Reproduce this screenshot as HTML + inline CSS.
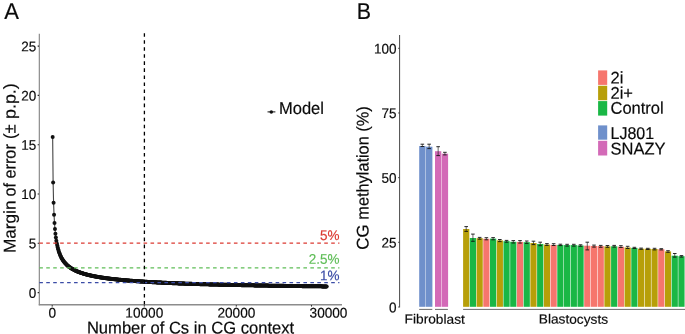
<!DOCTYPE html><html><head><meta charset="utf-8"><style>html,body{margin:0;padding:0;background:#fff}svg{display:block;position:absolute;left:0;top:0;will-change:transform}text{font-family:"Liberation Sans",sans-serif;fill:#0a0a0a;stroke:#0a0a0a;stroke-width:0.18px}</style></head><body>
<svg width="685" height="334" viewBox="0 0 685 334">
<rect width="685" height="334" fill="#fff"/>
<text transform="translate(4.20,18.90) rotate(0.05) scale(1.0,1.04)" font-size="22">A</text>
<line x1="39.35" y1="33.8" x2="39.35" y2="305.3" stroke="#909090" stroke-width="1.25"/>
<line x1="38.75" y1="304.7" x2="342" y2="304.7" stroke="#8c8c8c" stroke-width="1.35"/>
<line x1="37.7" y1="292.60" x2="38.9" y2="292.60" stroke="#111" stroke-width="1.1"/>
<text transform="translate(36.20,297.65) rotate(0.05) scale(1.0,1.03)" font-size="13.5" text-anchor="end">0</text>
<line x1="37.7" y1="243.30" x2="38.9" y2="243.30" stroke="#111" stroke-width="1.1"/>
<text transform="translate(36.20,248.35) rotate(0.05) scale(1.0,1.03)" font-size="13.5" text-anchor="end">5</text>
<line x1="37.7" y1="194.00" x2="38.9" y2="194.00" stroke="#111" stroke-width="1.1"/>
<text transform="translate(36.20,199.05) rotate(0.05) scale(1.0,1.03)" font-size="13.5" text-anchor="end">10</text>
<line x1="37.7" y1="144.70" x2="38.9" y2="144.70" stroke="#111" stroke-width="1.1"/>
<text transform="translate(36.20,149.75) rotate(0.05) scale(1.0,1.03)" font-size="13.5" text-anchor="end">15</text>
<line x1="37.7" y1="95.40" x2="38.9" y2="95.40" stroke="#111" stroke-width="1.1"/>
<text transform="translate(36.20,100.45) rotate(0.05) scale(1.0,1.03)" font-size="13.5" text-anchor="end">20</text>
<line x1="37.7" y1="46.10" x2="38.9" y2="46.10" stroke="#111" stroke-width="1.1"/>
<text transform="translate(36.20,51.15) rotate(0.05) scale(1.0,1.03)" font-size="13.5" text-anchor="end">25</text>
<line x1="52.2" y1="305.2" x2="52.2" y2="306.5" stroke="#111" stroke-width="1.1"/>
<text transform="translate(52.20,317.60) rotate(0.05) scale(1.01,1.03)" font-size="13.5" text-anchor="middle">0</text>
<line x1="144.3" y1="305.2" x2="144.3" y2="306.5" stroke="#111" stroke-width="1.1"/>
<text transform="translate(144.30,317.60) rotate(0.05) scale(1.01,1.03)" font-size="13.5" text-anchor="middle">10000</text>
<line x1="236.3" y1="305.2" x2="236.3" y2="306.5" stroke="#111" stroke-width="1.1"/>
<text transform="translate(236.40,317.60) rotate(0.05) scale(1.01,1.03)" font-size="13.5" text-anchor="middle">20000</text>
<line x1="311.5" y1="305.2" x2="311.5" y2="306.5" stroke="#111" stroke-width="1.1"/>
<text transform="translate(328.50,317.60) rotate(0.05) scale(1.01,1.03)" font-size="13.5" text-anchor="middle">30000</text>
<polyline fill="none" stroke="#444" stroke-width="1.1" points="52.66,137.11 53.12,182.59 53.58,202.74 54.04,214.76 54.50,222.96 54.96,229.01 55.42,233.71 55.88,237.51 56.34,240.65 56.80,243.30 57.27,245.59 57.73,247.59 58.19,249.35 58.65,250.91 59.11,252.32 59.57,253.60 60.03,254.76 60.49,255.82 60.95,256.80 61.41,257.70 61.87,258.54 62.33,259.32 62.79,260.05 63.25,260.73 63.71,261.37 64.17,261.98 64.63,262.55 65.09,263.09 65.55,263.60 66.02,264.09 66.48,264.55 66.94,264.99 67.40,265.41 67.86,265.81 68.32,266.20 68.78,266.56 69.24,266.92 69.70,267.26 70.16,267.58 70.62,267.90 71.08,268.20 71.54,268.49 72.00,268.77 72.46,269.05 72.92,269.31 73.38,269.56 73.84,269.81 74.30,270.05 74.76,270.28 75.22,270.50 75.69,270.72 76.15,270.93 76.61,271.14 77.07,271.34 77.53,271.53 77.99,271.72 78.45,271.91 78.91,272.09 79.37,272.26 79.83,272.43 80.29,272.60 80.75,272.76 81.21,272.92 81.67,273.07 82.13,273.22 82.59,273.37 83.05,273.52 83.51,273.66 83.97,273.80 84.44,273.93 84.90,274.06 85.36,274.19 85.82,274.32 86.28,274.44 86.74,274.57 87.20,274.69 87.66,274.80 88.12,274.92 88.58,275.03 89.04,275.14 89.50,275.25 89.96,275.36 90.42,275.46 90.88,275.57 91.34,275.67 91.80,275.77 92.26,275.87 92.72,275.96 93.18,276.06 93.65,276.15 94.11,276.24 94.57,276.33 95.03,276.42 95.49,276.51 95.95,276.59 96.41,276.68 96.87,276.76 97.33,276.84 97.79,276.92 98.25,277.00 98.71,277.08 99.17,277.16 99.63,277.23 100.09,277.31 100.55,277.38 101.01,277.46 101.47,277.53 101.93,277.60 102.39,277.67 102.85,277.74 103.32,277.81 103.78,277.87 104.24,277.94 104.70,278.01 105.16,278.07 105.62,278.13 106.08,278.20 106.54,278.26 107.00,278.32 107.46,278.38 107.92,278.44 108.38,278.50 108.84,278.56 109.30,278.62 109.76,278.67 110.22,278.73 110.68,278.79 111.14,278.84 111.60,278.90 112.06,278.95 112.53,279.00 112.99,279.06 113.45,279.11 113.91,279.16 114.37,279.21 114.83,279.26 115.29,279.31 115.75,279.36 116.21,279.41 116.67,279.46 117.13,279.51 117.59,279.55 118.05,279.60 118.51,279.65 118.97,279.69 119.43,279.74 119.89,279.78 120.35,279.83 120.81,279.87 121.28,279.92 121.74,279.96 122.20,280.00 122.66,280.05 123.12,280.09 123.58,280.13 124.04,280.17 124.50,280.21 124.96,280.25 125.42,280.29 125.88,280.33 126.34,280.37 126.80,280.41 127.26,280.45 127.72,280.49 128.18,280.53 128.64,280.57 129.10,280.60 129.56,280.64 130.02,280.68 130.49,280.71 130.95,280.75 131.41,280.78 131.87,280.82 132.33,280.86 132.79,280.89 133.25,280.93 133.71,280.96 134.17,280.99 134.63,281.03 135.09,281.06 135.55,281.09 136.01,281.13 136.47,281.16 136.93,281.19 137.39,281.23 137.85,281.26 138.31,281.29 138.77,281.32 139.23,281.35 139.69,281.38 140.16,281.41 140.62,281.44 141.08,281.48 141.54,281.51 142.00,281.54 142.46,281.57 142.92,281.59 143.38,281.62 143.84,281.65 144.30,281.68 144.76,281.71 145.22,281.74 145.68,281.77 146.14,281.80 146.60,281.82 147.06,281.85 147.52,281.88 147.98,281.91 148.44,281.93 148.91,281.96 149.37,281.99 149.83,282.01 150.29,282.04 150.75,282.07 151.21,282.09 151.67,282.12 152.13,282.14 152.59,282.17 153.05,282.19 153.51,282.22 153.97,282.24 154.43,282.27 154.89,282.29 155.35,282.32 155.81,282.34 156.27,282.37 156.73,282.39 157.19,282.42 157.65,282.44 158.12,282.46 158.58,282.49 159.04,282.51 159.50,282.53 159.96,282.56 160.42,282.58 160.88,282.60 161.34,282.62 161.80,282.65 162.26,282.67 162.72,282.69 163.18,282.71 163.64,282.74 164.10,282.76 164.56,282.78 165.02,282.80 165.48,282.82 165.94,282.84 166.40,282.86 166.86,282.89 167.32,282.91 167.79,282.93 168.25,282.95 168.71,282.97 169.17,282.99 169.63,283.01 170.09,283.03 170.55,283.05 171.01,283.07 171.47,283.09 171.93,283.11 172.39,283.13 172.85,283.15 173.31,283.17 173.77,283.19 174.23,283.21 174.69,283.23 175.15,283.25 175.61,283.27 176.07,283.29 176.53,283.30 177.00,283.32 177.46,283.34 177.92,283.36 178.38,283.38 178.84,283.40 179.30,283.42 179.76,283.43 180.22,283.45 180.68,283.47 181.14,283.49 181.60,283.51 182.06,283.52 182.52,283.54 182.98,283.56 183.44,283.58 183.90,283.59 184.36,283.61 184.82,283.63 185.28,283.64 185.75,283.66 186.21,283.68 186.67,283.70 187.13,283.71 187.59,283.73 188.05,283.75 188.51,283.76 188.97,283.78 189.43,283.80 189.89,283.81 190.35,283.83 190.81,283.84 191.27,283.86 191.73,283.87 192.19,283.89 192.65,283.90 193.11,283.92 193.57,283.93 194.03,283.95 194.49,283.96 194.95,283.97 195.42,283.99 195.88,284.00 196.34,284.02 196.80,284.03 197.26,284.04 197.72,284.06 198.18,284.07 198.64,284.09 199.10,284.10 199.56,284.11 200.02,284.13 200.48,284.14 200.94,284.15 201.40,284.17 201.86,284.18 202.32,284.19 202.78,284.21 203.24,284.22 203.70,284.23 204.17,284.25 204.63,284.26 205.09,284.27 205.55,284.28 206.01,284.30 206.47,284.31 206.93,284.32 207.39,284.33 207.85,284.35 208.31,284.36 208.77,284.37 209.23,284.38 209.69,284.40 210.15,284.41 210.61,284.42 211.07,284.43 211.53,284.45 211.99,284.46 212.45,284.47 212.91,284.48 213.38,284.49 213.84,284.51 214.30,284.52 214.76,284.53 215.22,284.54 215.68,284.55 216.14,284.56 216.60,284.58 217.06,284.59 217.52,284.60 217.98,284.61 218.44,284.62 218.90,284.63 219.36,284.64 219.82,284.65 220.28,284.67 220.74,284.68 221.20,284.69 221.66,284.70 222.12,284.71 222.58,284.72 223.05,284.73 223.51,284.74 223.97,284.75 224.43,284.76 224.89,284.78 225.35,284.79 225.81,284.80 226.27,284.81 226.73,284.82 227.19,284.83 227.65,284.84 228.11,284.85 228.57,284.86 229.03,284.87 229.49,284.88 229.95,284.89 230.41,284.90 230.87,284.91 231.33,284.92 231.80,284.93 232.26,284.94 232.72,284.95 233.18,284.96 233.64,284.97 234.10,284.98 234.56,284.99 235.02,285.00 235.48,285.01 235.94,285.02 236.40,285.03 236.86,285.04 237.32,285.05 237.78,285.06 238.24,285.07 238.70,285.08 239.16,285.09 239.62,285.10 240.08,285.11 240.54,285.12 241.00,285.12 241.47,285.13 241.93,285.14 242.39,285.15 242.85,285.16 243.31,285.17 243.77,285.18 244.23,285.19 244.69,285.20 245.15,285.21 245.61,285.22 246.07,285.23 246.53,285.23 246.99,285.24 247.45,285.25 247.91,285.26 248.37,285.27 248.83,285.28 249.29,285.29 249.75,285.30 250.21,285.31 250.68,285.31 251.14,285.32 251.60,285.33 252.06,285.34 252.52,285.35 252.98,285.36 253.44,285.37 253.90,285.37 254.36,285.38 254.82,285.39 255.28,285.40 255.74,285.41 256.20,285.42 256.66,285.42 257.12,285.43 257.58,285.44 258.04,285.45 258.50,285.46 258.96,285.47 259.43,285.47 259.89,285.48 260.35,285.49 260.81,285.50 261.27,285.51 261.73,285.51 262.19,285.52 262.65,285.53 263.11,285.54 263.57,285.55 264.03,285.55 264.49,285.56 264.95,285.57 265.41,285.58 265.87,285.59 266.33,285.59 266.79,285.60 267.25,285.61 267.71,285.62 268.17,285.62 268.63,285.63 269.10,285.64 269.56,285.65 270.02,285.65 270.48,285.66 270.94,285.67 271.40,285.68 271.86,285.68 272.32,285.69 272.78,285.70 273.24,285.71 273.70,285.71 274.16,285.72 274.62,285.73 275.08,285.74 275.54,285.74 276.00,285.75 276.46,285.76 276.92,285.76 277.38,285.77 277.84,285.78 278.31,285.79 278.77,285.79 279.23,285.80 279.69,285.81 280.15,285.81 280.61,285.82 281.07,285.83 281.53,285.84 281.99,285.84 282.45,285.85 282.91,285.86 283.37,285.86 283.83,285.87 284.29,285.88 284.75,285.88 285.21,285.89 285.67,285.90 286.13,285.90 286.59,285.91 287.06,285.92 287.52,285.92 287.98,285.93 288.44,285.94 288.90,285.94 289.36,285.95 289.82,285.96 290.28,285.96 290.74,285.97 291.20,285.98 291.66,285.98 292.12,285.99 292.58,286.00 293.04,286.00 293.50,286.01 293.96,286.02 294.42,286.02 294.88,286.03 295.34,286.04 295.80,286.04 296.26,286.05 296.73,286.06 297.19,286.06 297.65,286.07 298.11,286.07 298.57,286.08 299.03,286.09 299.49,286.09 299.95,286.10 300.41,286.11 300.87,286.11 301.33,286.12 301.79,286.12 302.25,286.13 302.71,286.14 303.17,286.14 303.63,286.15 304.09,286.15 304.55,286.16 305.01,286.17 305.47,286.17 305.94,286.18 306.40,286.18 306.86,286.19 307.32,286.20 307.78,286.20 308.24,286.21 308.70,286.21 309.16,286.22 309.62,286.23 310.08,286.23 310.54,286.24 311.00,286.24 311.46,286.25 311.92,286.26 312.38,286.26 312.84,286.27 313.30,286.27 313.76,286.28 314.22,286.28 314.68,286.29 315.15,286.30 315.61,286.30 316.07,286.31 316.53,286.31 316.99,286.32 317.45,286.32 317.91,286.33 318.37,286.33 318.83,286.34 319.29,286.35 319.75,286.35 320.21,286.36 320.67,286.36 321.13,286.37 321.59,286.37 322.05,286.38 322.51,286.38 322.97,286.39 323.43,286.40 323.89,286.40 324.36,286.41 324.82,286.41 325.28,286.42 325.74,286.42 326.20,286.43 326.66,286.43"/>
<g fill="#111">
<circle cx="52.66" cy="137.11" r="2.0"/>
<circle cx="53.12" cy="182.59" r="2.0"/>
<circle cx="53.58" cy="202.74" r="2.0"/>
<circle cx="54.04" cy="214.76" r="2.0"/>
<circle cx="54.50" cy="222.96" r="2.0"/>
<circle cx="54.96" cy="229.01" r="2.0"/>
<circle cx="55.42" cy="233.71" r="2.0"/>
<circle cx="55.88" cy="237.51" r="2.0"/>
<circle cx="56.34" cy="240.65" r="2.0"/>
<circle cx="56.80" cy="243.30" r="2.0"/>
<circle cx="57.27" cy="245.59" r="2.0"/>
<circle cx="57.73" cy="247.59" r="2.0"/>
<circle cx="58.19" cy="249.35" r="2.0"/>
<circle cx="58.65" cy="250.91" r="2.0"/>
<circle cx="59.11" cy="252.32" r="2.0"/>
<circle cx="59.57" cy="253.60" r="2.0"/>
<circle cx="60.03" cy="254.76" r="2.0"/>
<circle cx="60.49" cy="255.82" r="2.0"/>
<circle cx="60.95" cy="256.80" r="2.0"/>
<circle cx="61.41" cy="257.70" r="2.0"/>
<circle cx="61.87" cy="258.54" r="2.0"/>
<circle cx="62.33" cy="259.32" r="2.0"/>
<circle cx="62.79" cy="260.05" r="2.0"/>
<circle cx="63.25" cy="260.73" r="2.0"/>
<circle cx="63.71" cy="261.37" r="2.0"/>
<circle cx="64.17" cy="261.98" r="2.0"/>
<circle cx="64.63" cy="262.55" r="2.0"/>
<circle cx="65.09" cy="263.09" r="2.0"/>
<circle cx="65.55" cy="263.60" r="2.0"/>
<circle cx="66.02" cy="264.09" r="2.0"/>
<circle cx="66.48" cy="264.55" r="2.0"/>
<circle cx="66.94" cy="264.99" r="2.0"/>
<circle cx="67.40" cy="265.41" r="2.0"/>
<circle cx="67.86" cy="265.81" r="2.0"/>
<circle cx="68.32" cy="266.20" r="2.0"/>
<circle cx="68.78" cy="266.56" r="2.0"/>
<circle cx="69.24" cy="266.92" r="2.0"/>
<circle cx="69.70" cy="267.26" r="2.0"/>
<circle cx="70.16" cy="267.58" r="2.0"/>
<circle cx="70.62" cy="267.90" r="2.0"/>
<circle cx="71.08" cy="268.20" r="2.0"/>
<circle cx="71.54" cy="268.49" r="2.0"/>
<circle cx="72.00" cy="268.77" r="2.0"/>
<circle cx="72.46" cy="269.05" r="2.0"/>
<circle cx="72.92" cy="269.31" r="2.0"/>
<circle cx="73.38" cy="269.56" r="2.0"/>
<circle cx="73.84" cy="269.81" r="2.0"/>
<circle cx="74.30" cy="270.05" r="2.0"/>
<circle cx="74.76" cy="270.28" r="2.0"/>
<circle cx="75.22" cy="270.50" r="2.0"/>
<circle cx="75.69" cy="270.72" r="2.0"/>
<circle cx="76.15" cy="270.93" r="2.0"/>
<circle cx="76.61" cy="271.14" r="2.0"/>
<circle cx="77.07" cy="271.34" r="2.0"/>
<circle cx="77.53" cy="271.53" r="2.0"/>
<circle cx="77.99" cy="271.72" r="2.0"/>
<circle cx="78.45" cy="271.91" r="2.0"/>
<circle cx="78.91" cy="272.09" r="2.0"/>
<circle cx="79.37" cy="272.26" r="2.0"/>
<circle cx="79.83" cy="272.43" r="2.0"/>
<circle cx="80.29" cy="272.60" r="2.0"/>
<circle cx="80.75" cy="272.76" r="2.0"/>
<circle cx="81.21" cy="272.92" r="2.0"/>
<circle cx="81.67" cy="273.07" r="2.0"/>
<circle cx="82.13" cy="273.22" r="2.0"/>
<circle cx="82.59" cy="273.37" r="2.0"/>
<circle cx="83.05" cy="273.52" r="2.0"/>
<circle cx="83.51" cy="273.66" r="2.0"/>
<circle cx="83.97" cy="273.80" r="2.0"/>
<circle cx="84.44" cy="273.93" r="2.0"/>
<circle cx="84.90" cy="274.06" r="2.0"/>
<circle cx="85.36" cy="274.19" r="2.0"/>
<circle cx="85.82" cy="274.32" r="2.0"/>
<circle cx="86.28" cy="274.44" r="2.0"/>
<circle cx="86.74" cy="274.57" r="2.0"/>
<circle cx="87.20" cy="274.69" r="2.0"/>
<circle cx="87.66" cy="274.80" r="2.0"/>
<circle cx="88.12" cy="274.92" r="2.0"/>
<circle cx="88.58" cy="275.03" r="2.0"/>
<circle cx="89.04" cy="275.14" r="2.0"/>
<circle cx="89.50" cy="275.25" r="2.0"/>
<circle cx="89.96" cy="275.36" r="2.0"/>
<circle cx="90.42" cy="275.46" r="2.0"/>
<circle cx="90.88" cy="275.57" r="2.0"/>
<circle cx="91.34" cy="275.67" r="2.0"/>
<circle cx="91.80" cy="275.77" r="2.0"/>
<circle cx="92.26" cy="275.87" r="2.0"/>
<circle cx="92.72" cy="275.96" r="2.0"/>
<circle cx="93.18" cy="276.06" r="2.0"/>
<circle cx="93.65" cy="276.15" r="2.0"/>
<circle cx="94.11" cy="276.24" r="2.0"/>
<circle cx="94.57" cy="276.33" r="2.0"/>
<circle cx="95.03" cy="276.42" r="2.0"/>
<circle cx="95.49" cy="276.51" r="2.0"/>
<circle cx="95.95" cy="276.59" r="2.0"/>
<circle cx="96.41" cy="276.68" r="2.0"/>
<circle cx="96.87" cy="276.76" r="2.0"/>
<circle cx="97.33" cy="276.84" r="2.0"/>
<circle cx="97.79" cy="276.92" r="2.0"/>
<circle cx="98.25" cy="277.00" r="2.0"/>
<circle cx="98.71" cy="277.08" r="2.0"/>
<circle cx="99.17" cy="277.16" r="2.0"/>
<circle cx="99.63" cy="277.23" r="2.0"/>
<circle cx="100.09" cy="277.31" r="2.0"/>
<circle cx="100.55" cy="277.38" r="2.0"/>
<circle cx="101.01" cy="277.46" r="2.0"/>
<circle cx="101.47" cy="277.53" r="2.0"/>
<circle cx="101.93" cy="277.60" r="2.0"/>
<circle cx="102.39" cy="277.67" r="2.0"/>
<circle cx="102.85" cy="277.74" r="2.0"/>
<circle cx="103.32" cy="277.81" r="2.0"/>
<circle cx="103.78" cy="277.87" r="2.0"/>
<circle cx="104.24" cy="277.94" r="2.0"/>
<circle cx="104.70" cy="278.01" r="2.0"/>
<circle cx="105.16" cy="278.07" r="2.0"/>
<circle cx="105.62" cy="278.13" r="2.0"/>
<circle cx="106.08" cy="278.20" r="2.0"/>
<circle cx="106.54" cy="278.26" r="2.0"/>
<circle cx="107.00" cy="278.32" r="2.0"/>
<circle cx="107.46" cy="278.38" r="2.0"/>
<circle cx="107.92" cy="278.44" r="2.0"/>
<circle cx="108.38" cy="278.50" r="2.0"/>
<circle cx="108.84" cy="278.56" r="2.0"/>
<circle cx="109.30" cy="278.62" r="2.0"/>
<circle cx="109.76" cy="278.67" r="2.0"/>
<circle cx="110.22" cy="278.73" r="2.0"/>
<circle cx="110.68" cy="278.79" r="2.0"/>
<circle cx="111.14" cy="278.84" r="2.0"/>
<circle cx="111.60" cy="278.90" r="2.0"/>
<circle cx="112.06" cy="278.95" r="2.0"/>
<circle cx="112.53" cy="279.00" r="2.0"/>
<circle cx="112.99" cy="279.06" r="2.0"/>
<circle cx="113.45" cy="279.11" r="2.0"/>
<circle cx="113.91" cy="279.16" r="2.0"/>
<circle cx="114.37" cy="279.21" r="2.0"/>
<circle cx="114.83" cy="279.26" r="2.0"/>
<circle cx="115.29" cy="279.31" r="2.0"/>
<circle cx="115.75" cy="279.36" r="2.0"/>
<circle cx="116.21" cy="279.41" r="2.0"/>
<circle cx="116.67" cy="279.46" r="2.0"/>
<circle cx="117.13" cy="279.51" r="2.0"/>
<circle cx="117.59" cy="279.55" r="2.0"/>
<circle cx="118.05" cy="279.60" r="2.0"/>
<circle cx="118.51" cy="279.65" r="2.0"/>
<circle cx="118.97" cy="279.69" r="2.0"/>
<circle cx="119.43" cy="279.74" r="2.0"/>
<circle cx="119.89" cy="279.78" r="2.0"/>
<circle cx="120.35" cy="279.83" r="2.0"/>
<circle cx="120.81" cy="279.87" r="2.0"/>
<circle cx="121.28" cy="279.92" r="2.0"/>
<circle cx="121.74" cy="279.96" r="2.0"/>
<circle cx="122.20" cy="280.00" r="2.0"/>
<circle cx="122.66" cy="280.05" r="2.0"/>
<circle cx="123.12" cy="280.09" r="2.0"/>
<circle cx="123.58" cy="280.13" r="2.0"/>
<circle cx="124.04" cy="280.17" r="2.0"/>
<circle cx="124.50" cy="280.21" r="2.0"/>
<circle cx="124.96" cy="280.25" r="2.0"/>
<circle cx="125.42" cy="280.29" r="2.0"/>
<circle cx="125.88" cy="280.33" r="2.0"/>
<circle cx="126.34" cy="280.37" r="2.0"/>
<circle cx="126.80" cy="280.41" r="2.0"/>
<circle cx="127.26" cy="280.45" r="2.0"/>
<circle cx="127.72" cy="280.49" r="2.0"/>
<circle cx="128.18" cy="280.53" r="2.0"/>
<circle cx="128.64" cy="280.57" r="2.0"/>
<circle cx="129.10" cy="280.60" r="2.0"/>
<circle cx="129.56" cy="280.64" r="2.0"/>
<circle cx="130.02" cy="280.68" r="2.0"/>
<circle cx="130.49" cy="280.71" r="2.0"/>
<circle cx="130.95" cy="280.75" r="2.0"/>
<circle cx="131.41" cy="280.78" r="2.0"/>
<circle cx="131.87" cy="280.82" r="2.0"/>
<circle cx="132.33" cy="280.86" r="2.0"/>
<circle cx="132.79" cy="280.89" r="2.0"/>
<circle cx="133.25" cy="280.93" r="2.0"/>
<circle cx="133.71" cy="280.96" r="2.0"/>
<circle cx="134.17" cy="280.99" r="2.0"/>
<circle cx="134.63" cy="281.03" r="2.0"/>
<circle cx="135.09" cy="281.06" r="2.0"/>
<circle cx="135.55" cy="281.09" r="2.0"/>
<circle cx="136.01" cy="281.13" r="2.0"/>
<circle cx="136.47" cy="281.16" r="2.0"/>
<circle cx="136.93" cy="281.19" r="2.0"/>
<circle cx="137.39" cy="281.23" r="2.0"/>
<circle cx="137.85" cy="281.26" r="2.0"/>
<circle cx="138.31" cy="281.29" r="2.0"/>
<circle cx="138.77" cy="281.32" r="2.0"/>
<circle cx="139.23" cy="281.35" r="2.0"/>
<circle cx="139.69" cy="281.38" r="2.0"/>
<circle cx="140.16" cy="281.41" r="2.0"/>
<circle cx="140.62" cy="281.44" r="2.0"/>
<circle cx="141.08" cy="281.48" r="2.0"/>
<circle cx="141.54" cy="281.51" r="2.0"/>
<circle cx="142.00" cy="281.54" r="2.0"/>
<circle cx="142.46" cy="281.57" r="2.0"/>
<circle cx="142.92" cy="281.59" r="2.0"/>
<circle cx="143.38" cy="281.62" r="2.0"/>
<circle cx="143.84" cy="281.65" r="2.0"/>
<circle cx="144.30" cy="281.68" r="2.0"/>
<circle cx="144.76" cy="281.71" r="2.0"/>
<circle cx="145.22" cy="281.74" r="2.0"/>
<circle cx="145.68" cy="281.77" r="2.0"/>
<circle cx="146.14" cy="281.80" r="2.0"/>
<circle cx="146.60" cy="281.82" r="2.0"/>
<circle cx="147.06" cy="281.85" r="2.0"/>
<circle cx="147.52" cy="281.88" r="2.0"/>
<circle cx="147.98" cy="281.91" r="2.0"/>
<circle cx="148.44" cy="281.93" r="2.0"/>
<circle cx="148.91" cy="281.96" r="2.0"/>
<circle cx="149.37" cy="281.99" r="2.0"/>
<circle cx="149.83" cy="282.01" r="2.0"/>
<circle cx="150.29" cy="282.04" r="2.0"/>
<circle cx="150.75" cy="282.07" r="2.0"/>
<circle cx="151.21" cy="282.09" r="2.0"/>
<circle cx="151.67" cy="282.12" r="2.0"/>
<circle cx="152.13" cy="282.14" r="2.0"/>
<circle cx="152.59" cy="282.17" r="2.0"/>
<circle cx="153.05" cy="282.19" r="2.0"/>
<circle cx="153.51" cy="282.22" r="2.0"/>
<circle cx="153.97" cy="282.24" r="2.0"/>
<circle cx="154.43" cy="282.27" r="2.0"/>
<circle cx="154.89" cy="282.29" r="2.0"/>
<circle cx="155.35" cy="282.32" r="2.0"/>
<circle cx="155.81" cy="282.34" r="2.0"/>
<circle cx="156.27" cy="282.37" r="2.0"/>
<circle cx="156.73" cy="282.39" r="2.0"/>
<circle cx="157.19" cy="282.42" r="2.0"/>
<circle cx="157.65" cy="282.44" r="2.0"/>
<circle cx="158.12" cy="282.46" r="2.0"/>
<circle cx="158.58" cy="282.49" r="2.0"/>
<circle cx="159.04" cy="282.51" r="2.0"/>
<circle cx="159.50" cy="282.53" r="2.0"/>
<circle cx="159.96" cy="282.56" r="2.0"/>
<circle cx="160.42" cy="282.58" r="2.0"/>
<circle cx="160.88" cy="282.60" r="2.0"/>
<circle cx="161.34" cy="282.62" r="2.0"/>
<circle cx="161.80" cy="282.65" r="2.0"/>
<circle cx="162.26" cy="282.67" r="2.0"/>
<circle cx="162.72" cy="282.69" r="2.0"/>
<circle cx="163.18" cy="282.71" r="2.0"/>
<circle cx="163.64" cy="282.74" r="2.0"/>
<circle cx="164.10" cy="282.76" r="2.0"/>
<circle cx="164.56" cy="282.78" r="2.0"/>
<circle cx="165.02" cy="282.80" r="2.0"/>
<circle cx="165.48" cy="282.82" r="2.0"/>
<circle cx="165.94" cy="282.84" r="2.0"/>
<circle cx="166.40" cy="282.86" r="2.0"/>
<circle cx="166.86" cy="282.89" r="2.0"/>
<circle cx="167.32" cy="282.91" r="2.0"/>
<circle cx="167.79" cy="282.93" r="2.0"/>
<circle cx="168.25" cy="282.95" r="2.0"/>
<circle cx="168.71" cy="282.97" r="2.0"/>
<circle cx="169.17" cy="282.99" r="2.0"/>
<circle cx="169.63" cy="283.01" r="2.0"/>
<circle cx="170.09" cy="283.03" r="2.0"/>
<circle cx="170.55" cy="283.05" r="2.0"/>
<circle cx="171.01" cy="283.07" r="2.0"/>
<circle cx="171.47" cy="283.09" r="2.0"/>
<circle cx="171.93" cy="283.11" r="2.0"/>
<circle cx="172.39" cy="283.13" r="2.0"/>
<circle cx="172.85" cy="283.15" r="2.0"/>
<circle cx="173.31" cy="283.17" r="2.0"/>
<circle cx="173.77" cy="283.19" r="2.0"/>
<circle cx="174.23" cy="283.21" r="2.0"/>
<circle cx="174.69" cy="283.23" r="2.0"/>
<circle cx="175.15" cy="283.25" r="2.0"/>
<circle cx="175.61" cy="283.27" r="2.0"/>
<circle cx="176.07" cy="283.29" r="2.0"/>
<circle cx="176.53" cy="283.30" r="2.0"/>
<circle cx="177.00" cy="283.32" r="2.0"/>
<circle cx="177.46" cy="283.34" r="2.0"/>
<circle cx="177.92" cy="283.36" r="2.0"/>
<circle cx="178.38" cy="283.38" r="2.0"/>
<circle cx="178.84" cy="283.40" r="2.0"/>
<circle cx="179.30" cy="283.42" r="2.0"/>
<circle cx="179.76" cy="283.43" r="2.0"/>
<circle cx="180.22" cy="283.45" r="2.0"/>
<circle cx="180.68" cy="283.47" r="2.0"/>
<circle cx="181.14" cy="283.49" r="2.0"/>
<circle cx="181.60" cy="283.51" r="2.0"/>
<circle cx="182.06" cy="283.52" r="2.0"/>
<circle cx="182.52" cy="283.54" r="2.0"/>
<circle cx="182.98" cy="283.56" r="2.0"/>
<circle cx="183.44" cy="283.58" r="2.0"/>
<circle cx="183.90" cy="283.59" r="2.0"/>
<circle cx="184.36" cy="283.61" r="2.0"/>
<circle cx="184.82" cy="283.63" r="2.0"/>
<circle cx="185.28" cy="283.64" r="2.0"/>
<circle cx="185.75" cy="283.66" r="2.0"/>
<circle cx="186.21" cy="283.68" r="2.0"/>
<circle cx="186.67" cy="283.70" r="2.0"/>
<circle cx="187.13" cy="283.71" r="2.0"/>
<circle cx="187.59" cy="283.73" r="2.0"/>
<circle cx="188.05" cy="283.75" r="2.0"/>
<circle cx="188.51" cy="283.76" r="2.0"/>
<circle cx="188.97" cy="283.78" r="2.0"/>
<circle cx="189.43" cy="283.80" r="2.0"/>
<circle cx="189.89" cy="283.81" r="2.0"/>
<circle cx="190.35" cy="283.83" r="2.0"/>
<circle cx="190.81" cy="283.84" r="2.0"/>
<circle cx="191.27" cy="283.86" r="2.0"/>
<circle cx="191.73" cy="283.87" r="2.0"/>
<circle cx="192.19" cy="283.89" r="2.0"/>
<circle cx="192.65" cy="283.90" r="2.0"/>
<circle cx="193.11" cy="283.92" r="2.0"/>
<circle cx="193.57" cy="283.93" r="2.0"/>
<circle cx="194.03" cy="283.95" r="2.0"/>
<circle cx="194.49" cy="283.96" r="2.0"/>
<circle cx="194.95" cy="283.97" r="2.0"/>
<circle cx="195.42" cy="283.99" r="2.0"/>
<circle cx="195.88" cy="284.00" r="2.0"/>
<circle cx="196.34" cy="284.02" r="2.0"/>
<circle cx="196.80" cy="284.03" r="2.0"/>
<circle cx="197.26" cy="284.04" r="2.0"/>
<circle cx="197.72" cy="284.06" r="2.0"/>
<circle cx="198.18" cy="284.07" r="2.0"/>
<circle cx="198.64" cy="284.09" r="2.0"/>
<circle cx="199.10" cy="284.10" r="2.0"/>
<circle cx="199.56" cy="284.11" r="2.0"/>
<circle cx="200.02" cy="284.13" r="2.0"/>
<circle cx="200.48" cy="284.14" r="2.0"/>
<circle cx="200.94" cy="284.15" r="2.0"/>
<circle cx="201.40" cy="284.17" r="2.0"/>
<circle cx="201.86" cy="284.18" r="2.0"/>
<circle cx="202.32" cy="284.19" r="2.0"/>
<circle cx="202.78" cy="284.21" r="2.0"/>
<circle cx="203.24" cy="284.22" r="2.0"/>
<circle cx="203.70" cy="284.23" r="2.0"/>
<circle cx="204.17" cy="284.25" r="2.0"/>
<circle cx="204.63" cy="284.26" r="2.0"/>
<circle cx="205.09" cy="284.27" r="2.0"/>
<circle cx="205.55" cy="284.28" r="2.0"/>
<circle cx="206.01" cy="284.30" r="2.0"/>
<circle cx="206.47" cy="284.31" r="2.0"/>
<circle cx="206.93" cy="284.32" r="2.0"/>
<circle cx="207.39" cy="284.33" r="2.0"/>
<circle cx="207.85" cy="284.35" r="2.0"/>
<circle cx="208.31" cy="284.36" r="2.0"/>
<circle cx="208.77" cy="284.37" r="2.0"/>
<circle cx="209.23" cy="284.38" r="2.0"/>
<circle cx="209.69" cy="284.40" r="2.0"/>
<circle cx="210.15" cy="284.41" r="2.0"/>
<circle cx="210.61" cy="284.42" r="2.0"/>
<circle cx="211.07" cy="284.43" r="2.0"/>
<circle cx="211.53" cy="284.45" r="2.0"/>
<circle cx="211.99" cy="284.46" r="2.0"/>
<circle cx="212.45" cy="284.47" r="2.0"/>
<circle cx="212.91" cy="284.48" r="2.0"/>
<circle cx="213.38" cy="284.49" r="2.0"/>
<circle cx="213.84" cy="284.51" r="2.0"/>
<circle cx="214.30" cy="284.52" r="2.0"/>
<circle cx="214.76" cy="284.53" r="2.0"/>
<circle cx="215.22" cy="284.54" r="2.0"/>
<circle cx="215.68" cy="284.55" r="2.0"/>
<circle cx="216.14" cy="284.56" r="2.0"/>
<circle cx="216.60" cy="284.58" r="2.0"/>
<circle cx="217.06" cy="284.59" r="2.0"/>
<circle cx="217.52" cy="284.60" r="2.0"/>
<circle cx="217.98" cy="284.61" r="2.0"/>
<circle cx="218.44" cy="284.62" r="2.0"/>
<circle cx="218.90" cy="284.63" r="2.0"/>
<circle cx="219.36" cy="284.64" r="2.0"/>
<circle cx="219.82" cy="284.65" r="2.0"/>
<circle cx="220.28" cy="284.67" r="2.0"/>
<circle cx="220.74" cy="284.68" r="2.0"/>
<circle cx="221.20" cy="284.69" r="2.0"/>
<circle cx="221.66" cy="284.70" r="2.0"/>
<circle cx="222.12" cy="284.71" r="2.0"/>
<circle cx="222.58" cy="284.72" r="2.0"/>
<circle cx="223.05" cy="284.73" r="2.0"/>
<circle cx="223.51" cy="284.74" r="2.0"/>
<circle cx="223.97" cy="284.75" r="2.0"/>
<circle cx="224.43" cy="284.76" r="2.0"/>
<circle cx="224.89" cy="284.78" r="2.0"/>
<circle cx="225.35" cy="284.79" r="2.0"/>
<circle cx="225.81" cy="284.80" r="2.0"/>
<circle cx="226.27" cy="284.81" r="2.0"/>
<circle cx="226.73" cy="284.82" r="2.0"/>
<circle cx="227.19" cy="284.83" r="2.0"/>
<circle cx="227.65" cy="284.84" r="2.0"/>
<circle cx="228.11" cy="284.85" r="2.0"/>
<circle cx="228.57" cy="284.86" r="2.0"/>
<circle cx="229.03" cy="284.87" r="2.0"/>
<circle cx="229.49" cy="284.88" r="2.0"/>
<circle cx="229.95" cy="284.89" r="2.0"/>
<circle cx="230.41" cy="284.90" r="2.0"/>
<circle cx="230.87" cy="284.91" r="2.0"/>
<circle cx="231.33" cy="284.92" r="2.0"/>
<circle cx="231.80" cy="284.93" r="2.0"/>
<circle cx="232.26" cy="284.94" r="2.0"/>
<circle cx="232.72" cy="284.95" r="2.0"/>
<circle cx="233.18" cy="284.96" r="2.0"/>
<circle cx="233.64" cy="284.97" r="2.0"/>
<circle cx="234.10" cy="284.98" r="2.0"/>
<circle cx="234.56" cy="284.99" r="2.0"/>
<circle cx="235.02" cy="285.00" r="2.0"/>
<circle cx="235.48" cy="285.01" r="2.0"/>
<circle cx="235.94" cy="285.02" r="2.0"/>
<circle cx="236.40" cy="285.03" r="2.0"/>
<circle cx="236.86" cy="285.04" r="2.0"/>
<circle cx="237.32" cy="285.05" r="2.0"/>
<circle cx="237.78" cy="285.06" r="2.0"/>
<circle cx="238.24" cy="285.07" r="2.0"/>
<circle cx="238.70" cy="285.08" r="2.0"/>
<circle cx="239.16" cy="285.09" r="2.0"/>
<circle cx="239.62" cy="285.10" r="2.0"/>
<circle cx="240.08" cy="285.11" r="2.0"/>
<circle cx="240.54" cy="285.12" r="2.0"/>
<circle cx="241.00" cy="285.12" r="2.0"/>
<circle cx="241.47" cy="285.13" r="2.0"/>
<circle cx="241.93" cy="285.14" r="2.0"/>
<circle cx="242.39" cy="285.15" r="2.0"/>
<circle cx="242.85" cy="285.16" r="2.0"/>
<circle cx="243.31" cy="285.17" r="2.0"/>
<circle cx="243.77" cy="285.18" r="2.0"/>
<circle cx="244.23" cy="285.19" r="2.0"/>
<circle cx="244.69" cy="285.20" r="2.0"/>
<circle cx="245.15" cy="285.21" r="2.0"/>
<circle cx="245.61" cy="285.22" r="2.0"/>
<circle cx="246.07" cy="285.23" r="2.0"/>
<circle cx="246.53" cy="285.23" r="2.0"/>
<circle cx="246.99" cy="285.24" r="2.0"/>
<circle cx="247.45" cy="285.25" r="2.0"/>
<circle cx="247.91" cy="285.26" r="2.0"/>
<circle cx="248.37" cy="285.27" r="2.0"/>
<circle cx="248.83" cy="285.28" r="2.0"/>
<circle cx="249.29" cy="285.29" r="2.0"/>
<circle cx="249.75" cy="285.30" r="2.0"/>
<circle cx="250.21" cy="285.31" r="2.0"/>
<circle cx="250.68" cy="285.31" r="2.0"/>
<circle cx="251.14" cy="285.32" r="2.0"/>
<circle cx="251.60" cy="285.33" r="2.0"/>
<circle cx="252.06" cy="285.34" r="2.0"/>
<circle cx="252.52" cy="285.35" r="2.0"/>
<circle cx="252.98" cy="285.36" r="2.0"/>
<circle cx="253.44" cy="285.37" r="2.0"/>
<circle cx="253.90" cy="285.37" r="2.0"/>
<circle cx="254.36" cy="285.38" r="2.0"/>
<circle cx="254.82" cy="285.39" r="2.0"/>
<circle cx="255.28" cy="285.40" r="2.0"/>
<circle cx="255.74" cy="285.41" r="2.0"/>
<circle cx="256.20" cy="285.42" r="2.0"/>
<circle cx="256.66" cy="285.42" r="2.0"/>
<circle cx="257.12" cy="285.43" r="2.0"/>
<circle cx="257.58" cy="285.44" r="2.0"/>
<circle cx="258.04" cy="285.45" r="2.0"/>
<circle cx="258.50" cy="285.46" r="2.0"/>
<circle cx="258.96" cy="285.47" r="2.0"/>
<circle cx="259.43" cy="285.47" r="2.0"/>
<circle cx="259.89" cy="285.48" r="2.0"/>
<circle cx="260.35" cy="285.49" r="2.0"/>
<circle cx="260.81" cy="285.50" r="2.0"/>
<circle cx="261.27" cy="285.51" r="2.0"/>
<circle cx="261.73" cy="285.51" r="2.0"/>
<circle cx="262.19" cy="285.52" r="2.0"/>
<circle cx="262.65" cy="285.53" r="2.0"/>
<circle cx="263.11" cy="285.54" r="2.0"/>
<circle cx="263.57" cy="285.55" r="2.0"/>
<circle cx="264.03" cy="285.55" r="2.0"/>
<circle cx="264.49" cy="285.56" r="2.0"/>
<circle cx="264.95" cy="285.57" r="2.0"/>
<circle cx="265.41" cy="285.58" r="2.0"/>
<circle cx="265.87" cy="285.59" r="2.0"/>
<circle cx="266.33" cy="285.59" r="2.0"/>
<circle cx="266.79" cy="285.60" r="2.0"/>
<circle cx="267.25" cy="285.61" r="2.0"/>
<circle cx="267.71" cy="285.62" r="2.0"/>
<circle cx="268.17" cy="285.62" r="2.0"/>
<circle cx="268.63" cy="285.63" r="2.0"/>
<circle cx="269.10" cy="285.64" r="2.0"/>
<circle cx="269.56" cy="285.65" r="2.0"/>
<circle cx="270.02" cy="285.65" r="2.0"/>
<circle cx="270.48" cy="285.66" r="2.0"/>
<circle cx="270.94" cy="285.67" r="2.0"/>
<circle cx="271.40" cy="285.68" r="2.0"/>
<circle cx="271.86" cy="285.68" r="2.0"/>
<circle cx="272.32" cy="285.69" r="2.0"/>
<circle cx="272.78" cy="285.70" r="2.0"/>
<circle cx="273.24" cy="285.71" r="2.0"/>
<circle cx="273.70" cy="285.71" r="2.0"/>
<circle cx="274.16" cy="285.72" r="2.0"/>
<circle cx="274.62" cy="285.73" r="2.0"/>
<circle cx="275.08" cy="285.74" r="2.0"/>
<circle cx="275.54" cy="285.74" r="2.0"/>
<circle cx="276.00" cy="285.75" r="2.0"/>
<circle cx="276.46" cy="285.76" r="2.0"/>
<circle cx="276.92" cy="285.76" r="2.0"/>
<circle cx="277.38" cy="285.77" r="2.0"/>
<circle cx="277.84" cy="285.78" r="2.0"/>
<circle cx="278.31" cy="285.79" r="2.0"/>
<circle cx="278.77" cy="285.79" r="2.0"/>
<circle cx="279.23" cy="285.80" r="2.0"/>
<circle cx="279.69" cy="285.81" r="2.0"/>
<circle cx="280.15" cy="285.81" r="2.0"/>
<circle cx="280.61" cy="285.82" r="2.0"/>
<circle cx="281.07" cy="285.83" r="2.0"/>
<circle cx="281.53" cy="285.84" r="2.0"/>
<circle cx="281.99" cy="285.84" r="2.0"/>
<circle cx="282.45" cy="285.85" r="2.0"/>
<circle cx="282.91" cy="285.86" r="2.0"/>
<circle cx="283.37" cy="285.86" r="2.0"/>
<circle cx="283.83" cy="285.87" r="2.0"/>
<circle cx="284.29" cy="285.88" r="2.0"/>
<circle cx="284.75" cy="285.88" r="2.0"/>
<circle cx="285.21" cy="285.89" r="2.0"/>
<circle cx="285.67" cy="285.90" r="2.0"/>
<circle cx="286.13" cy="285.90" r="2.0"/>
<circle cx="286.59" cy="285.91" r="2.0"/>
<circle cx="287.06" cy="285.92" r="2.0"/>
<circle cx="287.52" cy="285.92" r="2.0"/>
<circle cx="287.98" cy="285.93" r="2.0"/>
<circle cx="288.44" cy="285.94" r="2.0"/>
<circle cx="288.90" cy="285.94" r="2.0"/>
<circle cx="289.36" cy="285.95" r="2.0"/>
<circle cx="289.82" cy="285.96" r="2.0"/>
<circle cx="290.28" cy="285.96" r="2.0"/>
<circle cx="290.74" cy="285.97" r="2.0"/>
<circle cx="291.20" cy="285.98" r="2.0"/>
<circle cx="291.66" cy="285.98" r="2.0"/>
<circle cx="292.12" cy="285.99" r="2.0"/>
<circle cx="292.58" cy="286.00" r="2.0"/>
<circle cx="293.04" cy="286.00" r="2.0"/>
<circle cx="293.50" cy="286.01" r="2.0"/>
<circle cx="293.96" cy="286.02" r="2.0"/>
<circle cx="294.42" cy="286.02" r="2.0"/>
<circle cx="294.88" cy="286.03" r="2.0"/>
<circle cx="295.34" cy="286.04" r="2.0"/>
<circle cx="295.80" cy="286.04" r="2.0"/>
<circle cx="296.26" cy="286.05" r="2.0"/>
<circle cx="296.73" cy="286.06" r="2.0"/>
<circle cx="297.19" cy="286.06" r="2.0"/>
<circle cx="297.65" cy="286.07" r="2.0"/>
<circle cx="298.11" cy="286.07" r="2.0"/>
<circle cx="298.57" cy="286.08" r="2.0"/>
<circle cx="299.03" cy="286.09" r="2.0"/>
<circle cx="299.49" cy="286.09" r="2.0"/>
<circle cx="299.95" cy="286.10" r="2.0"/>
<circle cx="300.41" cy="286.11" r="2.0"/>
<circle cx="300.87" cy="286.11" r="2.0"/>
<circle cx="301.33" cy="286.12" r="2.0"/>
<circle cx="301.79" cy="286.12" r="2.0"/>
<circle cx="302.25" cy="286.13" r="2.0"/>
<circle cx="302.71" cy="286.14" r="2.0"/>
<circle cx="303.17" cy="286.14" r="2.0"/>
<circle cx="303.63" cy="286.15" r="2.0"/>
<circle cx="304.09" cy="286.15" r="2.0"/>
<circle cx="304.55" cy="286.16" r="2.0"/>
<circle cx="305.01" cy="286.17" r="2.0"/>
<circle cx="305.47" cy="286.17" r="2.0"/>
<circle cx="305.94" cy="286.18" r="2.0"/>
<circle cx="306.40" cy="286.18" r="2.0"/>
<circle cx="306.86" cy="286.19" r="2.0"/>
<circle cx="307.32" cy="286.20" r="2.0"/>
<circle cx="307.78" cy="286.20" r="2.0"/>
<circle cx="308.24" cy="286.21" r="2.0"/>
<circle cx="308.70" cy="286.21" r="2.0"/>
<circle cx="309.16" cy="286.22" r="2.0"/>
<circle cx="309.62" cy="286.23" r="2.0"/>
<circle cx="310.08" cy="286.23" r="2.0"/>
<circle cx="310.54" cy="286.24" r="2.0"/>
<circle cx="311.00" cy="286.24" r="2.0"/>
<circle cx="311.46" cy="286.25" r="2.0"/>
<circle cx="311.92" cy="286.26" r="2.0"/>
<circle cx="312.38" cy="286.26" r="2.0"/>
<circle cx="312.84" cy="286.27" r="2.0"/>
<circle cx="313.30" cy="286.27" r="2.0"/>
<circle cx="313.76" cy="286.28" r="2.0"/>
<circle cx="314.22" cy="286.28" r="2.0"/>
<circle cx="314.68" cy="286.29" r="2.0"/>
<circle cx="315.15" cy="286.30" r="2.0"/>
<circle cx="315.61" cy="286.30" r="2.0"/>
<circle cx="316.07" cy="286.31" r="2.0"/>
<circle cx="316.53" cy="286.31" r="2.0"/>
<circle cx="316.99" cy="286.32" r="2.0"/>
<circle cx="317.45" cy="286.32" r="2.0"/>
<circle cx="317.91" cy="286.33" r="2.0"/>
<circle cx="318.37" cy="286.33" r="2.0"/>
<circle cx="318.83" cy="286.34" r="2.0"/>
<circle cx="319.29" cy="286.35" r="2.0"/>
<circle cx="319.75" cy="286.35" r="2.0"/>
<circle cx="320.21" cy="286.36" r="2.0"/>
<circle cx="320.67" cy="286.36" r="2.0"/>
<circle cx="321.13" cy="286.37" r="2.0"/>
<circle cx="321.59" cy="286.37" r="2.0"/>
<circle cx="322.05" cy="286.38" r="2.0"/>
<circle cx="322.51" cy="286.38" r="2.0"/>
<circle cx="322.97" cy="286.39" r="2.0"/>
<circle cx="323.43" cy="286.40" r="2.0"/>
<circle cx="323.89" cy="286.40" r="2.0"/>
<circle cx="324.36" cy="286.41" r="2.0"/>
<circle cx="324.82" cy="286.41" r="2.0"/>
<circle cx="325.28" cy="286.42" r="2.0"/>
<circle cx="325.74" cy="286.42" r="2.0"/>
<circle cx="326.20" cy="286.43" r="2.0"/>
<circle cx="326.66" cy="286.43" r="2.0"/>
</g>
<line x1="39.3" y1="243.10" x2="339.4" y2="243.10" stroke="#DB3A32" stroke-width="1.25" stroke-dasharray="3.6 3.35"/>
<text transform="translate(339.60,240.05) rotate(0.05) scale(1.0,1.03)" font-size="13.5" text-anchor="end" style="fill:#DB3A32;stroke:#DB3A32">5%</text>
<line x1="39.3" y1="267.75" x2="339.4" y2="267.75" stroke="#5FBD57" stroke-width="1.25" stroke-dasharray="3.6 3.35"/>
<text transform="translate(339.60,263.70) rotate(0.05) scale(1.0,1.03)" font-size="13.5" text-anchor="end" style="fill:#5FBD57;stroke:#5FBD57">2.5%</text>
<line x1="39.3" y1="282.54" x2="339.4" y2="282.54" stroke="#3B4CA6" stroke-width="1.25" stroke-dasharray="3.6 3.35"/>
<text transform="translate(339.60,280.30) rotate(0.05) scale(1.0,1.03)" font-size="13.5" text-anchor="end" style="fill:#3B4CA6;stroke:#3B4CA6">1%</text>
<line x1="144.4" y1="304.6" x2="144.4" y2="33.2" stroke="#000" stroke-width="1.3" stroke-dasharray="3.6 3.45"/>
<line x1="267.5" y1="111.9" x2="275.4" y2="111.9" stroke="#111" stroke-width="1"/>
<circle cx="271.3" cy="111.9" r="1.75" fill="#111"/>
<text transform="translate(279.00,114.00) rotate(0.05) scale(1.0,1.03)" font-size="16.5">Model</text>
<text transform="translate(86.90,333.40) rotate(0.05) scale(1.0,1.02)" font-size="16.6" textLength="207.3" lengthAdjust="spacingAndGlyphs">Number of Cs in CG context</text>
<text transform="translate(15.40,253.10) rotate(-89.95) scale(1.0,1.02)" font-size="16.6" textLength="52.6" lengthAdjust="spacingAndGlyphs">Margin</text>
<text transform="translate(15.40,196.50) rotate(-89.95) scale(1.0,1.02)" font-size="16.6" textLength="52.3" lengthAdjust="spacingAndGlyphs">of error</text>
<text transform="translate(15.40,139.00) rotate(-89.95) scale(1.0,1.02)" font-size="16.6">(±</text>
<text transform="translate(15.40,119.00) rotate(-89.95) scale(1.0,1.02)" font-size="16.6" textLength="35.8" lengthAdjust="spacingAndGlyphs">p.p.)</text>
<text transform="translate(356.80,18.90) rotate(0.05) scale(0.972,1.04)" font-size="22">B</text>
<line x1="399.6" y1="35" x2="399.6" y2="307.4" stroke="#333" stroke-width="0.9"/>
<line x1="398" y1="307.00" x2="399.6" y2="307.00" stroke="#333" stroke-width="0.8"/>
<text transform="translate(396.40,312.15) rotate(0.05) scale(1.0,1.03)" font-size="13.5" text-anchor="end">0</text>
<line x1="398" y1="242.32" x2="399.6" y2="242.32" stroke="#333" stroke-width="0.8"/>
<text transform="translate(396.40,247.47) rotate(0.05) scale(1.0,1.03)" font-size="13.5" text-anchor="end">25</text>
<line x1="398" y1="177.65" x2="399.6" y2="177.65" stroke="#333" stroke-width="0.8"/>
<text transform="translate(396.40,182.80) rotate(0.05) scale(1.0,1.03)" font-size="13.5" text-anchor="end">50</text>
<line x1="398" y1="112.98" x2="399.6" y2="112.98" stroke="#333" stroke-width="0.8"/>
<text transform="translate(396.40,118.13) rotate(0.05) scale(1.0,1.03)" font-size="13.5" text-anchor="end">75</text>
<line x1="398" y1="48.30" x2="399.6" y2="48.30" stroke="#333" stroke-width="0.8"/>
<text transform="translate(396.40,53.45) rotate(0.05) scale(1.0,1.03)" font-size="13.5" text-anchor="end">100</text>
<text transform="translate(368.40,249.80) rotate(-89.95) scale(1.0,1.02)" font-size="16.6" textLength="25.3" lengthAdjust="spacingAndGlyphs">CG</text>
<text transform="translate(368.40,219.70) rotate(-89.95) scale(1.0,1.02)" font-size="16.6" textLength="113.4" lengthAdjust="spacingAndGlyphs">methylation (%)</text>
<rect x="419.20" y="146.00" width="6.30" height="160.80" fill="#6F90CB"/>
<path d="M420.55 144.20H424.15M420.55 146.50H424.15" stroke="#111" stroke-width="0.9" fill="none"/>
<path d="M422.35 144.20V146.50" stroke="#222" stroke-width="0.7" fill="none"/>
<rect x="425.90" y="146.70" width="6.50" height="160.10" fill="#6F90CB"/>
<path d="M427.35 144.20H430.95M427.35 148.60H430.95" stroke="#111" stroke-width="0.9" fill="none"/>
<path d="M429.15 144.20V148.60" stroke="#222" stroke-width="0.7" fill="none"/>
<rect x="435.00" y="151.20" width="6.30" height="155.60" fill="#D36AB7"/>
<path d="M436.35 146.70H439.95M436.35 155.60H439.95" stroke="#111" stroke-width="0.9" fill="none"/>
<path d="M438.15 146.70V155.60" stroke="#222" stroke-width="0.7" fill="none"/>
<rect x="441.70" y="153.70" width="6.40" height="153.10" fill="#D36AB7"/>
<path d="M443.10 152.30H446.70M443.10 154.90H446.70" stroke="#111" stroke-width="0.9" fill="none"/>
<path d="M444.90 152.30V154.90" stroke="#222" stroke-width="0.7" fill="none"/>
<rect x="463.10" y="229.00" width="6.20" height="77.80" fill="#B79F09"/>
<path d="M464.40 226.60H468.00M464.40 231.40H468.00" stroke="#111" stroke-width="0.9" fill="none"/>
<path d="M466.20 226.60V231.40" stroke="#222" stroke-width="0.7" fill="none"/>
<rect x="469.83" y="238.00" width="6.20" height="68.80" fill="#1AB745"/>
<path d="M471.13 234.10H474.73M471.13 241.30H474.73" stroke="#111" stroke-width="0.9" fill="none"/>
<path d="M472.93 234.10V241.30" stroke="#222" stroke-width="0.7" fill="none"/>
<rect x="476.55" y="238.20" width="6.20" height="68.60" fill="#B79F09"/>
<path d="M477.85 237.40H481.45M477.85 239.20H481.45" stroke="#111" stroke-width="0.9" fill="none"/>
<path d="M479.65 237.40V239.20" stroke="#222" stroke-width="0.7" fill="none"/>
<rect x="483.28" y="238.80" width="6.20" height="68.00" fill="#F6766D"/>
<path d="M484.58 237.70H488.18M484.58 239.80H488.18" stroke="#111" stroke-width="0.9" fill="none"/>
<path d="M486.38 237.70V239.80" stroke="#222" stroke-width="0.7" fill="none"/>
<rect x="490.01" y="238.60" width="6.20" height="68.20" fill="#1AB745"/>
<path d="M491.31 237.60H494.91M491.31 239.80H494.91" stroke="#111" stroke-width="0.9" fill="none"/>
<path d="M493.11 237.60V239.80" stroke="#222" stroke-width="0.7" fill="none"/>
<rect x="496.74" y="240.40" width="6.20" height="66.40" fill="#B79F09"/>
<path d="M498.04 239.50H501.64M498.04 241.60H501.64" stroke="#111" stroke-width="0.9" fill="none"/>
<path d="M499.84 239.50V241.60" stroke="#222" stroke-width="0.7" fill="none"/>
<rect x="503.46" y="241.20" width="6.20" height="65.60" fill="#1AB745"/>
<path d="M504.76 240.40H508.36M504.76 242.20H508.36" stroke="#111" stroke-width="0.9" fill="none"/>
<path d="M506.56 240.40V242.20" stroke="#222" stroke-width="0.7" fill="none"/>
<rect x="510.19" y="241.80" width="6.20" height="65.00" fill="#1AB745"/>
<path d="M511.49 240.60H515.09M511.49 243.00H515.09" stroke="#111" stroke-width="0.9" fill="none"/>
<path d="M513.29 240.60V243.00" stroke="#222" stroke-width="0.7" fill="none"/>
<rect x="516.92" y="241.90" width="6.20" height="64.90" fill="#F6766D"/>
<path d="M518.22 240.60H521.82M518.22 243.10H521.82" stroke="#111" stroke-width="0.9" fill="none"/>
<path d="M520.02 240.60V243.10" stroke="#222" stroke-width="0.7" fill="none"/>
<rect x="523.64" y="242.20" width="6.20" height="64.60" fill="#1AB745"/>
<path d="M524.94 241.00H528.54M524.94 243.40H528.54" stroke="#111" stroke-width="0.9" fill="none"/>
<path d="M526.74 241.00V243.40" stroke="#222" stroke-width="0.7" fill="none"/>
<rect x="530.37" y="243.00" width="6.20" height="63.80" fill="#B79F09"/>
<path d="M531.67 241.20H535.27M531.67 244.60H535.27" stroke="#111" stroke-width="0.9" fill="none"/>
<path d="M533.47 241.20V244.60" stroke="#222" stroke-width="0.7" fill="none"/>
<rect x="537.10" y="243.95" width="6.20" height="62.85" fill="#1AB745"/>
<path d="M538.40 242.20H542.00M538.40 245.70H542.00" stroke="#111" stroke-width="0.9" fill="none"/>
<path d="M540.20 242.20V245.70" stroke="#222" stroke-width="0.7" fill="none"/>
<rect x="543.82" y="244.60" width="6.20" height="62.20" fill="#B79F09"/>
<path d="M545.12 243.60H548.72M545.12 245.40H548.72" stroke="#111" stroke-width="0.9" fill="none"/>
<path d="M546.92 243.60V245.40" stroke="#222" stroke-width="0.7" fill="none"/>
<rect x="550.55" y="244.90" width="6.20" height="61.90" fill="#F6766D"/>
<path d="M551.85 243.70H555.45M551.85 245.50H555.45" stroke="#111" stroke-width="0.9" fill="none"/>
<path d="M553.65 243.70V245.50" stroke="#222" stroke-width="0.7" fill="none"/>
<rect x="557.28" y="244.90" width="6.20" height="61.90" fill="#1AB745"/>
<path d="M558.58 244.20H562.18M558.58 245.60H562.18" stroke="#111" stroke-width="0.9" fill="none"/>
<path d="M560.38 244.20V245.60" stroke="#222" stroke-width="0.7" fill="none"/>
<rect x="564.00" y="245.10" width="6.20" height="61.70" fill="#1AB745"/>
<path d="M565.31 244.30H568.90M565.31 246.10H568.90" stroke="#111" stroke-width="0.9" fill="none"/>
<path d="M567.11 244.30V246.10" stroke="#222" stroke-width="0.7" fill="none"/>
<rect x="570.73" y="245.10" width="6.20" height="61.70" fill="#1AB745"/>
<path d="M572.03 244.30H575.63M572.03 246.10H575.63" stroke="#111" stroke-width="0.9" fill="none"/>
<path d="M573.83 244.30V246.10" stroke="#222" stroke-width="0.7" fill="none"/>
<rect x="577.46" y="245.50" width="6.20" height="61.30" fill="#1AB745"/>
<path d="M578.76 244.80H582.36M578.76 246.30H582.36" stroke="#111" stroke-width="0.9" fill="none"/>
<path d="M580.56 244.80V246.30" stroke="#222" stroke-width="0.7" fill="none"/>
<rect x="584.19" y="245.70" width="6.20" height="61.10" fill="#F6766D"/>
<path d="M585.49 242.20H589.09M585.49 249.90H589.09" stroke="#111" stroke-width="0.9" fill="none"/>
<path d="M587.29 242.20V249.90" stroke="#222" stroke-width="0.7" fill="none"/>
<rect x="590.91" y="246.00" width="6.20" height="60.80" fill="#F6766D"/>
<path d="M592.21 245.10H595.81M592.21 247.10H595.81" stroke="#111" stroke-width="0.9" fill="none"/>
<path d="M594.01 245.10V247.10" stroke="#222" stroke-width="0.7" fill="none"/>
<rect x="597.64" y="246.10" width="6.20" height="60.70" fill="#F6766D"/>
<path d="M598.94 245.40H602.54M598.94 247.30H602.54" stroke="#111" stroke-width="0.9" fill="none"/>
<path d="M600.74 245.40V247.30" stroke="#222" stroke-width="0.7" fill="none"/>
<rect x="604.37" y="246.40" width="6.20" height="60.40" fill="#B79F09"/>
<path d="M605.67 245.50H609.27M605.67 247.30H609.27" stroke="#111" stroke-width="0.9" fill="none"/>
<path d="M607.47 245.50V247.30" stroke="#222" stroke-width="0.7" fill="none"/>
<rect x="611.09" y="246.30" width="6.20" height="60.50" fill="#1AB745"/>
<path d="M612.39 245.40H615.99M612.39 247.10H615.99" stroke="#111" stroke-width="0.9" fill="none"/>
<path d="M614.19 245.40V247.10" stroke="#222" stroke-width="0.7" fill="none"/>
<rect x="617.82" y="246.70" width="6.20" height="60.10" fill="#F6766D"/>
<path d="M619.12 245.70H622.72M619.12 247.50H622.72" stroke="#111" stroke-width="0.9" fill="none"/>
<path d="M620.92 245.70V247.50" stroke="#222" stroke-width="0.7" fill="none"/>
<rect x="624.55" y="247.50" width="6.20" height="59.30" fill="#B79F09"/>
<path d="M625.85 246.30H629.45M625.85 248.50H629.45" stroke="#111" stroke-width="0.9" fill="none"/>
<path d="M627.65 246.30V248.50" stroke="#222" stroke-width="0.7" fill="none"/>
<rect x="631.28" y="247.90" width="6.20" height="58.90" fill="#1AB745"/>
<path d="M632.58 247.30H636.18M632.58 248.50H636.18" stroke="#111" stroke-width="0.9" fill="none"/>
<path d="M634.38 247.30V248.50" stroke="#222" stroke-width="0.7" fill="none"/>
<rect x="638.00" y="248.70" width="6.20" height="58.10" fill="#B79F09"/>
<path d="M639.30 248.10H642.90M639.30 249.30H642.90" stroke="#111" stroke-width="0.9" fill="none"/>
<path d="M641.10 248.10V249.30" stroke="#222" stroke-width="0.7" fill="none"/>
<rect x="644.73" y="248.70" width="6.20" height="58.10" fill="#B79F09"/>
<path d="M646.03 248.30H649.63M646.03 249.50H649.63" stroke="#111" stroke-width="0.9" fill="none"/>
<path d="M647.83 248.30V249.50" stroke="#222" stroke-width="0.7" fill="none"/>
<rect x="651.46" y="249.00" width="6.20" height="57.80" fill="#B79F09"/>
<path d="M652.76 248.30H656.36M652.76 249.90H656.36" stroke="#111" stroke-width="0.9" fill="none"/>
<path d="M654.56 248.30V249.90" stroke="#222" stroke-width="0.7" fill="none"/>
<rect x="658.18" y="249.30" width="6.20" height="57.50" fill="#F6766D"/>
<path d="M659.48 248.70H663.08M659.48 249.90H663.08" stroke="#111" stroke-width="0.9" fill="none"/>
<path d="M661.28 248.70V249.90" stroke="#222" stroke-width="0.7" fill="none"/>
<rect x="664.91" y="251.40" width="6.20" height="55.40" fill="#B79F09"/>
<path d="M666.21 250.70H669.81M666.21 252.30H669.81" stroke="#111" stroke-width="0.9" fill="none"/>
<path d="M668.01 250.70V252.30" stroke="#222" stroke-width="0.7" fill="none"/>
<rect x="671.64" y="255.70" width="6.20" height="51.10" fill="#1AB745"/>
<path d="M672.94 253.50H676.54M672.94 257.10H676.54" stroke="#111" stroke-width="0.9" fill="none"/>
<path d="M674.74 253.50V257.10" stroke="#222" stroke-width="0.7" fill="none"/>
<rect x="678.36" y="256.20" width="6.20" height="50.60" fill="#1AB745"/>
<path d="M679.66 255.60H683.26M679.66 257.10H683.26" stroke="#111" stroke-width="0.9" fill="none"/>
<path d="M681.46 255.60V257.10" stroke="#222" stroke-width="0.7" fill="none"/>
<line x1="419.2" y1="309.4" x2="432.3" y2="309.4" stroke="#444" stroke-width="0.8"/>
<line x1="435" y1="309.4" x2="447.9" y2="309.4" stroke="#444" stroke-width="0.8"/>
<line x1="463.1" y1="309.4" x2="685" y2="309.4" stroke="#444" stroke-width="0.8"/>
<text transform="translate(404.60,323.60) rotate(0.05) scale(1.01,0.97)" font-size="13.6">Fibroblast</text>
<text transform="translate(538.80,323.60) rotate(0.05) scale(1.008,0.97)" font-size="13.6">Blastocysts</text>
<rect x="598.1" y="70.40" width="9.1" height="14.5" fill="#F6766D"/>
<text transform="translate(610.50,83.50) rotate(0.05) scale(1.0,1.03)" font-size="16.5">2i</text>
<rect x="598.1" y="85.75" width="9.1" height="14.5" fill="#B79F09"/>
<text transform="translate(610.50,98.80) rotate(0.05) scale(1.0,1.03)" font-size="16.5">2i+</text>
<rect x="598.1" y="101.10" width="9.1" height="14.5" fill="#1AB745"/>
<text transform="translate(610.50,113.70) rotate(0.05) scale(1.0,1.03)" font-size="16.5">Control</text>
<rect x="598.1" y="125.4" width="9.1" height="14.3" fill="#6F90CB"/>
<rect x="598.1" y="140.8" width="9.1" height="14.7" fill="#D36AB7"/>
<text transform="translate(610.50,138.90) rotate(0.05) scale(1.0,1.03)" font-size="16.5" textLength="43.6" lengthAdjust="spacingAndGlyphs">LJ801</text>
<text transform="translate(610.50,154.40) rotate(0.05) scale(1.0,1.03)" font-size="16.5">SNAZY</text>
</svg></body></html>
